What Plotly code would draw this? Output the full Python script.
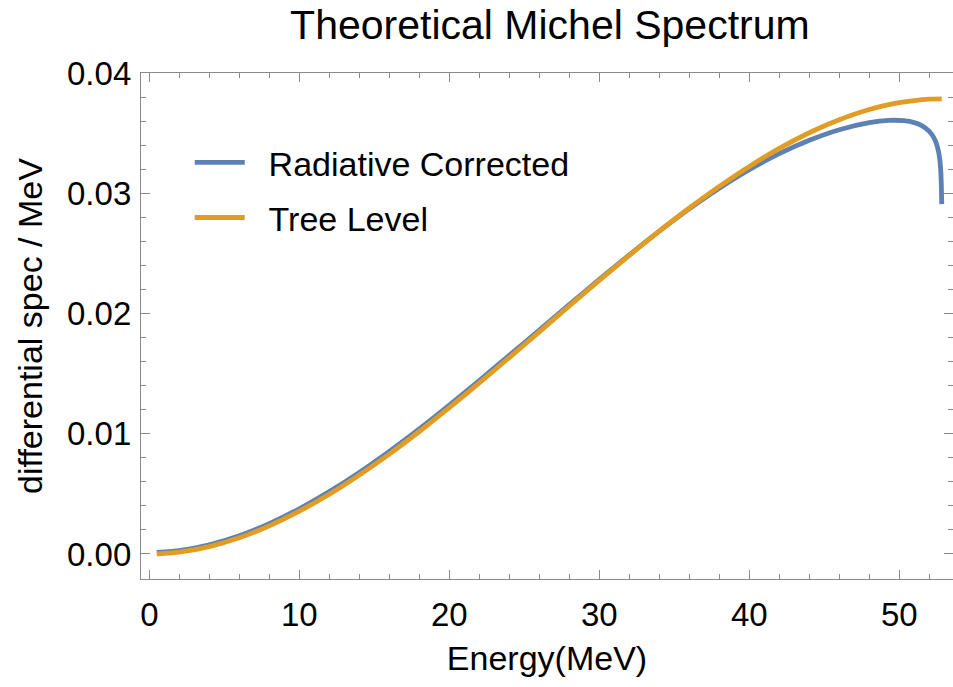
import plotly.graph_objects as go

# Energy grid (MeV) and values
energy_tree = [0.5, 2, 4, 6, 8, 10, 12, 14, 16, 18, 20, 22, 24, 26, 28, 30, 32, 34, 36,
               38, 40, 42, 44, 46, 48, 50, 51, 52, 52.83]
spec_tree = [0.00001, 0.00016, 0.00062, 0.00135, 0.00234, 0.00356, 0.00497, 0.00657,
             0.00831, 0.01019, 0.01217, 0.01423, 0.01634, 0.01848, 0.02063, 0.02276,
             0.02484, 0.02686, 0.02878, 0.03058, 0.03224, 0.03374, 0.03504, 0.03612,
             0.03697, 0.03754, 0.03772, 0.03783, 0.03786]

energy_rad = [0.5, 2, 4, 6, 8, 10, 12, 14, 16, 18, 20, 22, 24, 26, 28, 30, 32, 34, 36,
              38, 40, 42, 44, 46, 48, 49.3, 50.3, 51.0, 51.5, 52.0, 52.3, 52.5, 52.65,
              52.75, 52.8, 52.83]
spec_rad = [0.00014, 0.00028, 0.00076, 0.00151, 0.00253, 0.00376, 0.00519, 0.00679,
            0.00854, 0.01041, 0.01238, 0.01443, 0.01652, 0.01863, 0.02074, 0.02284,
            0.02488, 0.02686, 0.02872, 0.03043, 0.03197, 0.03330, 0.03441, 0.03529,
            0.03588, 0.03607, 0.03604, 0.03588, 0.03563, 0.03515, 0.03463, 0.03405,
            0.03325, 0.03215, 0.03080, 0.02910]

series_names = ["Radiative Corrected", "Tree Level"]
series_colors = ["#5E81B5", "#E19C24"]

x_ticks = [0, 10, 20, 30, 40, 50]
y_ticks = [0.00, 0.01, 0.02, 0.03, 0.04]

FONT = "Liberation Sans, Arial, sans-serif"
FRAME = "#8a8a8a"
PAD = "\u00a0\u00a0"

fig = go.Figure()
fig.add_trace(go.Scatter(x=energy_rad, y=spec_rad, mode="lines", name=PAD + series_names[0],
                         legendgroup="rad",
                         line=dict(color=series_colors[0], width=4.8, shape="spline",
                                   smoothing=0.5)))
fig.add_trace(go.Scatter(x=energy_tree, y=spec_tree, mode="lines", name=PAD + series_names[1],
                         legendgroup="tree",
                         line=dict(color=series_colors[1], width=4.8, shape="spline",
                                   smoothing=0.5)))

axis_common = dict(showline=True, linecolor=FRAME, linewidth=1.3, mirror="allticks",
                   ticks="inside", tickcolor=FRAME, tickwidth=1.3, ticklen=9,
                   showgrid=False, zeroline=False,
                   tickfont=dict(family=FONT, size=33, color="black"))

fig.update_layout(
    width=953, height=687,
    margin=dict(l=141, r=0, t=73, b=108),
    paper_bgcolor="white", plot_bgcolor="white",
    font=dict(family=FONT, color="black"),
    title=dict(text="Theoretical Michel Spectrum", x=0.577, xanchor="center",
               y=1 - 25 / 687, yanchor="middle",
               font=dict(family=FONT, size=41, color="black")),
    xaxis=dict(range=[-0.553, 53.58], tickvals=x_ticks,
               ticktext=[str(v) for v in x_ticks],
               minor=dict(dtick=2, ticks="inside", ticklen=5, tickcolor=FRAME, tickwidth=1.3),
               title=dict(text="Energy(MeV)", font=dict(family=FONT, size=34, color="black"),
                          standoff=14),
               ticklabelstandoff=6,
               **axis_common),
    yaxis=dict(range=[-0.00208, 0.04001], tickvals=y_ticks,
               ticktext=["%.2f" % v for v in y_ticks],
               minor=dict(dtick=0.002, ticks="inside", ticklen=5, tickcolor=FRAME, tickwidth=1.3),
               title=dict(text="differential spec / MeV",
                          font=dict(family=FONT, size=34, color="black"), standoff=14),
               ticklabelstandoff=2,
               **axis_common),
    legend=dict(x=0.06, y=0.88, xanchor="left", yanchor="top",
                font=dict(family=FONT, size=34, color="black"),
                bgcolor="rgba(0,0,0,0)", itemwidth=50, tracegroupgap=8,
                traceorder="grouped"),
    showlegend=True,
)

fig.write_html("out.html")
